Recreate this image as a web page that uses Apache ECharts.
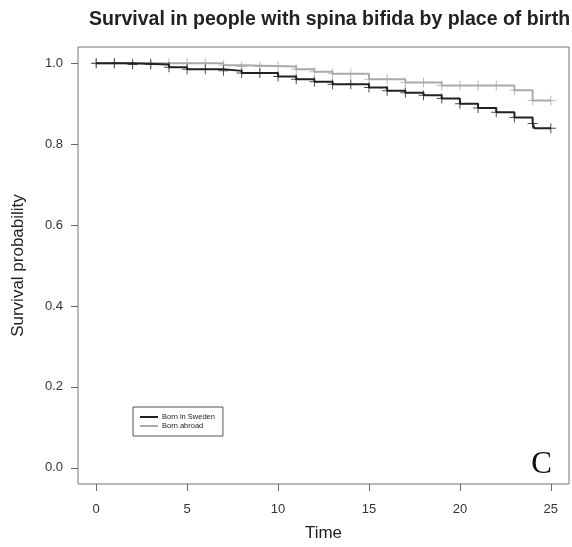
<!DOCTYPE html>
<html>
<head>
<meta charset="utf-8">
<script src="https://cdn.jsdelivr.net/npm/echarts@6/dist/echarts.min.js"></script>
<style>
  html, body { margin: 0; padding: 0; background: #fff; }
  #chart { width: 572px; height: 547px; }
</style>
</head>
<body>
<div id="chart"></div>
<script>
// Kaplan-Meier steps: event time -> survival after it
const swedenTimes = [0, 2, 4, 5, 7, 8, 10, 11, 12, 13, 15, 16, 17, 18, 19, 20, 21, 22, 23, 24, 24.1, 25];
const swedenSurv  = [1.0, 0.997, 0.990, 0.985, 0.981, 0.976, 0.967, 0.960, 0.954, 0.948, 0.940, 0.932, 0.927, 0.921, 0.913, 0.900, 0.889, 0.879, 0.866, 0.851, 0.839, 0.839];

const abroadTimes = [0, 7, 8, 11, 12, 13, 15, 17, 19, 23, 24, 25];
const abroadSurv  = [1.0, 0.995, 0.992, 0.985, 0.979, 0.974, 0.960, 0.952, 0.945, 0.933, 0.908, 0.908];

// censoring marks
const censorTimes = [0, 1, 2, 3, 4, 5, 6, 7, 8, 9, 10, 11, 12, 13, 14, 15, 16, 17, 18, 19, 20, 21, 22, 23, 24, 25];

const xTicks = [0, 5, 10, 15, 20, 25];
const yTicks = [0, 0.2, 0.4, 0.6, 0.8, 1.0];

const seriesNames = ['Born in Sweden', 'Born abroad'];

// survival value at time t from the step data
function survAt(times, surv, t) {
  let s = surv[0];
  for (let i = 0; i < times.length; i++) {
    if (times[i] <= t) s = surv[i];
  }
  return s;
}

const plusPath = 'path://M-1,-10 h2 v9 h9 v2 h-9 v9 h-2 v-9 h-9 v-2 h9 z';

const chart = echarts.init(document.getElementById('chart'));

const option = {
  backgroundColor: '#fff',
  animation: false,
  title: {
    text: 'Survival in people with spina bifida by place of birth',
    left: 84,
    top: 5,
    textStyle: {
      fontFamily: 'Liberation Sans, Arial, sans-serif',
      fontWeight: 'bold',
      fontSize: 19.5,
      color: '#222',
    },
  },
  legend: {
    data: seriesNames,
    orient: 'vertical',
    left: 133,
    top: 407,
    padding: [6, 8, 6, 7],
    itemGap: 1,
    itemWidth: 18,
    itemHeight: 2,
    icon: 'rect',
    borderColor: '#555',
    borderWidth: 1,
    textStyle: {
      fontFamily: 'Liberation Sans, Arial, sans-serif',
      fontSize: 7.5,
      color: '#222',
      padding: [0, 0, 0, -1],
    },
  },
  grid: {
    left: 78,
    right: 3,
    top: 47,
    bottom: 63,
    show: true,
    borderColor: '#777',
    borderWidth: 1,
  },
  xAxis: {
    type: 'value',
    min: -1,
    max: 26,
    name: 'Time',
    nameLocation: 'middle',
    nameGap: 41,
    nameTextStyle: {
      fontFamily: 'Liberation Sans, Arial, sans-serif',
      fontSize: 17,
      color: '#222',
    },
    axisLine: { show: false, onZero: false },
    splitLine: { show: false },
    axisTick: {
      show: true,
      customValues: xTicks,
      length: 7,
      lineStyle: { color: '#666' },
    },
    axisLabel: {
      customValues: xTicks,
      margin: 19,
      fontFamily: 'Liberation Sans, Arial, sans-serif',
      fontSize: 13,
      color: '#333',
    },
  },
  yAxis: {
    type: 'value',
    min: -0.04,
    max: 1.04,
    name: 'Survival probability',
    nameLocation: 'middle',
    nameGap: 51,
    nameTextStyle: {
      fontFamily: 'Liberation Sans, Arial, sans-serif',
      fontSize: 17,
      color: '#222',
    },
    axisLine: { show: false, onZero: false },
    splitLine: { show: false },
    axisTick: {
      show: true,
      customValues: yTicks,
      length: 7,
      lineStyle: { color: '#666' },
    },
    axisLabel: {
      customValues: yTicks,
      margin: 15,
      formatter: (v) => v.toFixed(1),
      fontFamily: 'Liberation Sans, Arial, sans-serif',
      fontSize: 13,
      color: '#333',
    },
  },
  graphic: [
    {
      type: 'text',
      right: 20,
      top: 449,
      style: {
        text: 'C',
        font: '31px "Liberation Serif", "DejaVu Serif", serif',
        fill: '#111',
      },
    },
  ],
  series: [
    {
      name: 'Born abroad',
      type: 'line',
      step: 'end',
      showSymbol: false,
      color: '#aaa',
      lineStyle: { color: '#aaa', width: 2 },
      data: abroadTimes.map((t, i) => [t, abroadSurv[i]]),
      z: 2,
    },
    {
      name: 'Born in Sweden',
      type: 'line',
      step: 'end',
      showSymbol: false,
      color: '#222',
      lineStyle: { color: '#222', width: 2 },
      data: swedenTimes.map((t, i) => [t, swedenSurv[i]]),
      z: 3,
    },
    {
      name: 'abroad censored',
      type: 'scatter',
      symbol: plusPath,
      symbolSize: 10,
      itemStyle: { color: '#aaa' },
      data: censorTimes.map((t) => [t, survAt(abroadTimes, abroadSurv, t)]),
      z: 2,
    },
    {
      name: 'sweden censored',
      type: 'scatter',
      symbol: plusPath,
      symbolSize: 10,
      itemStyle: { color: '#222' },
      data: censorTimes.map((t) => [t, survAt(swedenTimes, swedenSurv, t)]),
      z: 3,
    },
  ],
};

chart.setOption(option);
</script>
</body>
</html>
